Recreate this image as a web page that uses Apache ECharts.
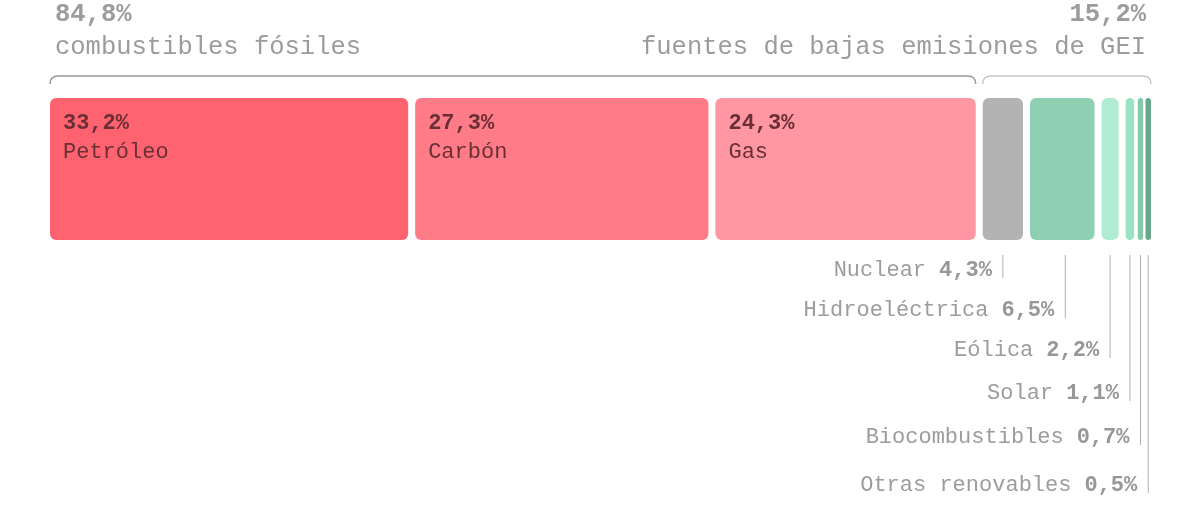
<!DOCTYPE html>
<html>
<head>
<meta charset="utf-8">
<script src="https://cdn.jsdelivr.net/npm/echarts@6/dist/echarts.min.js"></script>
<style>
  html, body { margin: 0; padding: 0; background: #fff; }
  #main { width: 1201px; height: 530px; }
</style>
</head>
<body>
<div id="main"></div>
<script>
  // datos
  var categories = ['Petróleo', 'Carbón', 'Gas', 'Nuclear', 'Hidroeléctrica', 'Eólica', 'Solar', 'Biocombustibles', 'Otras renovables'];
  var shares = [33.2, 27.3, 24.3, 4.3, 6.5, 2.2, 1.1, 0.7, 0.5];
  var groupOf = [0, 0, 0, 1, 1, 1, 1, 1, 1];
  var groupNames = ['combustibles fósiles', 'fuentes de bajas emisiones de GEI'];
  var groupTotals = [84.8, 15.2];

  // estilos
  var colors = ['#ff6370', '#ff7b87', '#ff97a2', '#b3b3b3', '#8ed0b1', '#b0ecd3', '#99e3c4', '#86c9a9', '#6aa689'];
  var bracketColors = ['#9a9a9a', '#c8c8c8'];
  var labelOffsets = [30, 70, 110, 153, 197, 245]; // etiquetas externas, desde el pie de la barra
  var FONT = '"Liberation Mono", "DejaVu Sans Mono", monospace';
  var insideText = '#6a2f36';
  var grayText = '#9c9c9c';

  function fmt(v) { return v.toFixed(1).replace('.', ',') + '%'; }

  var total = shares.reduce(function (a, b) { return a + b; }, 0);
  var segData = [];
  var acc = 0;
  shares.forEach(function (v, i) {
    segData.push([acc, acc + v, i]);
    acc += v;
  });

  var groupData = [];
  var gAcc = 0;
  groupTotals.forEach(function (t, g) {
    var end = g === groupTotals.length - 1 ? total : gAcc + t;
    groupData.push([gAcc, end, g]);
    gAcc = end;
  });

  var myChart = echarts.init(document.getElementById('main'));

  function renderSegment(params, api) {
    var i = api.value(2);
    var x0 = api.coord([api.value(0), 0])[0];
    var x1 = api.coord([api.value(1), 0])[0];
    var yTop = api.coord([0, 1])[1];
    var yBot = api.coord([0, 0])[1];
    var w = x1 - x0;
    var last = i === shares.length - 1;
    var gap = last ? 0 : (w > 20 ? 7 : w * 0.3);
    var bw = w - gap;
    var r = Math.min(6, bw / 2);
    var children = [{
      type: 'rect',
      shape: { x: x0, y: yTop, width: bw, height: yBot - yTop, r: r },
      style: { fill: colors[i] }
    }];
    if (i < 3) {
      children.push({
        type: 'text',
        style: { text: fmt(shares[i]), x: x0 + 13, y: yTop + 25, font: 'bold 22px ' + FONT, fill: insideText, verticalAlign: 'middle' }
      });
      children.push({
        type: 'text',
        style: { text: categories[i], x: x0 + 13, y: yTop + 54, font: '22px ' + FONT, fill: insideText, verticalAlign: 'middle' }
      });
    } else {
      var cx = x0 + bw / 2;
      if (i === 4) cx += 3;
      var ly = yBot + labelOffsets[i - 3];
      children.push({
        type: 'line',
        shape: { x1: cx, y1: yBot + 15, x2: cx, y2: ly + 8 },
        style: { stroke: '#b0b0b0', lineWidth: 1 }
      });
      children.push({
        type: 'text',
        style: {
          text: '{n|' + categories[i] + '}{v|' + fmt(shares[i]) + '}',
          x: cx - 11, y: ly, align: 'right', verticalAlign: 'middle',
          rich: {
            n: { font: '22px ' + FONT, fill: grayText },
            v: { font: 'bold 22px ' + FONT, fill: '#979797', padding: [0, 0, 0, 13] }
          }
        }
      });
    }
    return { type: 'group', children: children };
  }

  function renderBracket(params, api) {
    var g = api.value(2);
    var x0 = api.coord([api.value(0), 0])[0];
    var x1 = api.coord([api.value(1), 0])[0];
    if (g < groupTotals.length - 1) x1 -= 7;
    var yTop = api.coord([0, 1])[1];
    var yb = yTop - 22, yd = yTop - 14;
    var path = 'M' + x0 + ',' + yd + ' Q' + x0 + ',' + yb + ' ' + (x0 + 8) + ',' + yb +
      ' L' + (x1 - 8) + ',' + yb + ' Q' + x1 + ',' + yb + ' ' + x1 + ',' + yd;
    var left = g === 0;
    var tx = left ? x0 + 5 : x1 - 5;
    return {
      type: 'group',
      children: [
        { type: 'path', shape: { pathData: path }, style: { fill: 'none', stroke: bracketColors[g], lineWidth: 1.5 } },
        { type: 'text', style: { text: fmt(groupTotals[g]), x: tx, y: 15, align: left ? 'left' : 'right', verticalAlign: 'middle', font: 'bold 25.5px ' + FONT, fill: grayText } },
        { type: 'text', style: { text: groupNames[g], x: tx, y: 47, align: left ? 'left' : 'right', verticalAlign: 'middle', font: '25.5px ' + FONT, fill: grayText } }
      ]
    };
  }

  var option = {
    animation: false,
    grid: { left: 50, right: 50, top: 98, height: 142 },
    xAxis: { type: 'value', min: 0, max: total, show: false },
    yAxis: { type: 'value', min: 0, max: 1, show: false },
    series: [
      { type: 'custom', renderItem: renderSegment, encode: { x: [0, 1] }, data: segData, clip: false },
      { type: 'custom', renderItem: renderBracket, encode: { x: [0, 1] }, data: groupData, clip: false }
    ]
  };

  myChart.setOption(option);
</script>
</body>
</html>
